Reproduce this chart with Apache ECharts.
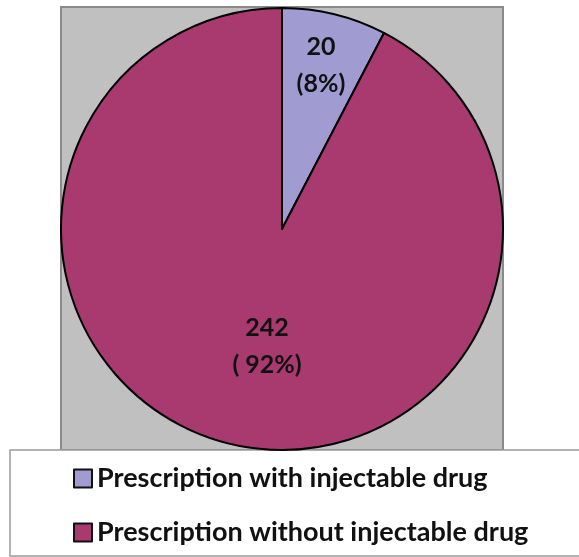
<!DOCTYPE html>
<html>
<head>
<meta charset="utf-8">
<script src="https://cdn.jsdelivr.net/npm/echarts@6/dist/echarts.min.js"></script>
<style>
  html, body { margin: 0; padding: 0; background: #fff; }
  #chart { width: 579px; height: 557px; }
</style>
</head>
<body>
<div id="chart"></div>
<script>
// Prescription counts by injectable-drug use
const categories = ['Prescription with injectable drug', 'Prescription without injectable drug'];
const counts = [20, 242];
const percentLabels = ['(8%)', '( 92%)'];
const sliceColors = ['#A09BD1', '#A93A6F'];

const FONT = 'Lato, "Open Sans", sans-serif';

const chart = echarts.init(document.getElementById('chart'));

// nudge each slice label away from the default inside position
const labelOffsets = [[12, -53], [12, 7]];

chart.setOption({
  animation: false,
  graphic: [
    {
      type: 'rect',
      shape: { x: 61, y: 7, width: 442, height: 443 },
      style: { fill: '#C0C0C0', stroke: '#8A8A8A', lineWidth: 2 },
      z: -10
    },
    {
      type: 'rect',
      shape: { x: 10, y: 450, width: 580, height: 106 },
      style: { fill: '#FFFFFF', stroke: '#9A9A9A', lineWidth: 1.5 },
      z: -10
    }
  ],
  legend: {
    orient: 'vertical',
    left: 73,
    top: 465,
    padding: 0,
    itemGap: 27,
    itemWidth: 18,
    itemHeight: 18,
    icon: 'rect',
    selectedMode: false,
    textStyle: { fontFamily: FONT, fontWeight: 'bold', fontSize: 27, lineHeight: 27, color: '#111', padding: [0, 0, 0, 0] },
    itemStyle: { borderColor: '#111', borderWidth: 2 },
    data: categories
  },
  series: [{
    type: 'pie',
    center: [282, 229],
    radius: 221,
    startAngle: 90,
    clockwise: true,
    silent: true,
    itemStyle: { borderColor: '#000', borderWidth: 2 },
    label: {
      position: 'inside',
      fontFamily: FONT,
      fontWeight: 'bold',
      fontSize: 25,
      color: '#111',
      lineHeight: 37,
      align: 'center'
    },
    labelLine: { show: false },
    data: categories.map((name, i) => ({
      name,
      value: counts[i],
      itemStyle: { color: sliceColors[i] },
      label: {
        formatter: counts[i] + '\n' + percentLabels[i],
        offset: labelOffsets[i]
      }
    }))
  }]
});
</script>
</body>
</html>
